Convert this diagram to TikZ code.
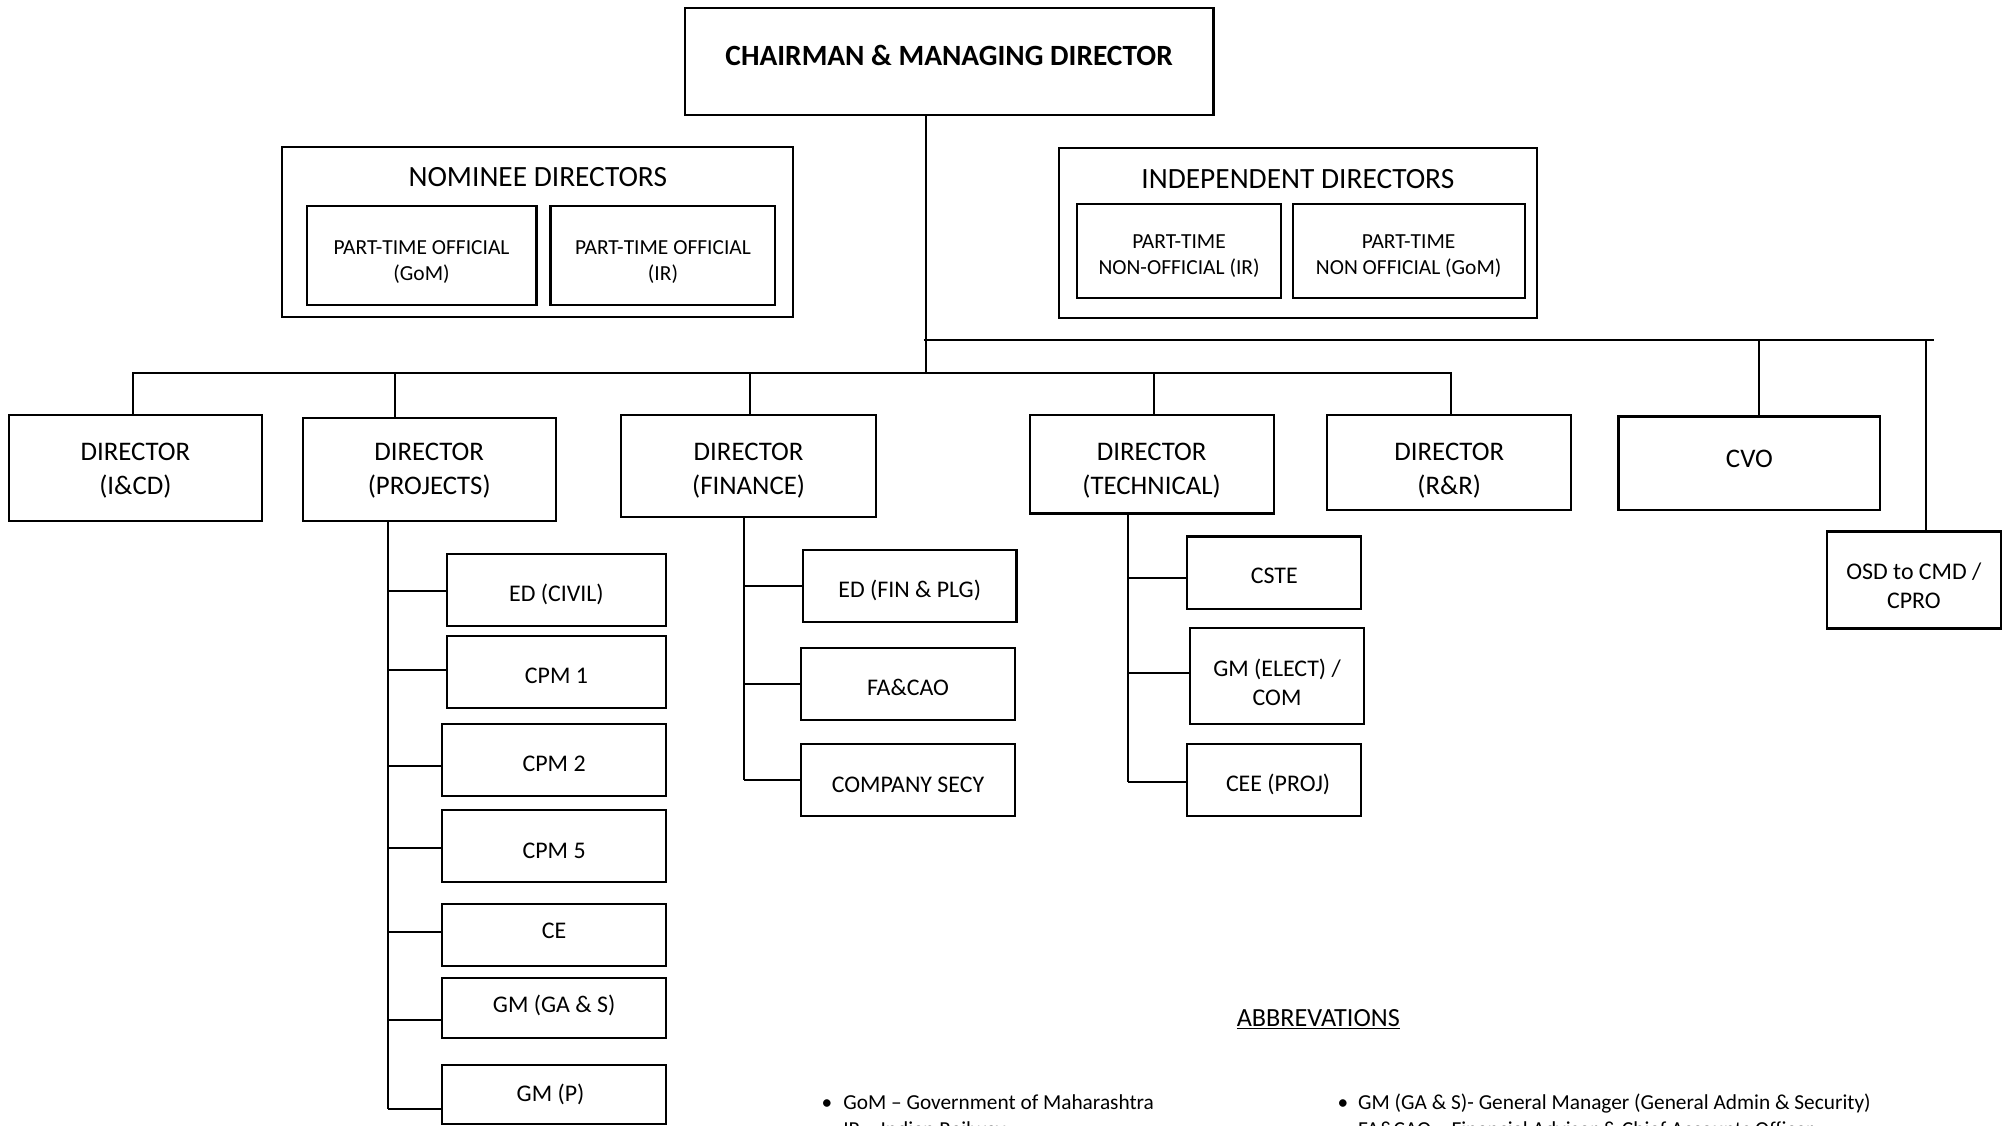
\documentclass[tikz,border=0pt]{standalone}
\usepackage{fontspec}
\setmainfont{Carlito}
\begin{document}
\begin{tikzpicture}[x=1pt,y=-1pt,
  box/.style={draw, line width=1.7pt, inner sep=0pt},
  txt/.style={inner sep=0pt, align=center, text=black},
  conn/.style={line width=1.6pt},
  fdir/.style={txt, font=\fontsize{21}{26}\selectfont},
  fsub/.style={txt, font=\fontsize{18.7}{23}\selectfont},
  fpt/.style={txt, font=\fontsize{16.8}{20.5}\selectfont},
  ftitle/.style={txt, font=\fontsize{23}{28}\selectfont},
  fbul/.style={font=\fontsize{16.7}{20}\selectfont, inner sep=0pt, anchor=base west},
  fabb/.style={font=\fontsize{20.5}{24}\selectfont, inner sep=0pt, anchor=base}]
\clip (0,0) rectangle (1568,880.7);
\fill[white] (0,0) rectangle (1568,880.7);

% top
\node[box, minimum width=414pt, minimum height=84pt] (cmd) at (743,48) {};
\node[txt, font=\bfseries\fontsize{23}{27}\selectfont] (cmdT) at (743,43.5) {CHAIRMAN \& MANAGING DIRECTOR};

% nominee directors
\node[box, minimum width=400pt, minimum height=133pt] (nomo) at (421,181.5) {};
\node[ftitle] (nomt) at (421,139) {NOMINEE DIRECTORS};
\node[box, minimum width=180pt, minimum height=78pt] (nom1) at (330,200) {};
\node[fpt] (nom1T) at (330,205) {PART-TIME OFFICIAL\\(GoM)};
\node[box, minimum width=176pt, minimum height=78pt] (nom2) at (519,200) {};
\node[fpt] (nom2T) at (519,205) {PART-TIME OFFICIAL\\(IR)};

% independent directors
\node[box, minimum width=374pt, minimum height=133pt] (indo) at (1016,182.5) {};
\node[ftitle] (indt) at (1016,140) {INDEPENDENT DIRECTORS};
\node[box, minimum width=160pt, minimum height=74pt] (ind1) at (923,196.4) {};
\node[fpt] (ind1T) at (923,200.4) {PART-TIME\\NON-OFFICIAL (IR)};
\node[box, minimum width=181.5pt, minimum height=74pt] (ind2) at (1102.75,196.4) {};
\node[fpt] (ind2T) at (1102.75,200.4) {PART-TIME\\NON OFFICIAL (GoM)};

% directors
\node[box, minimum width=198pt, minimum height=83pt] (icd) at (106,366.5) {};
\node[fdir] (icdT) at (106,368.5) {DIRECTOR\\(I\&CD)};
\node[box, minimum width=198pt, minimum height=81pt] (proj) at (336,367.5) {};
\node[fdir] (projT) at (336,368.5) {DIRECTOR\\(PROJECTS)};
\node[box, minimum width=200pt, minimum height=80pt] (fin) at (586,365) {};
\node[fdir] (finT) at (586,368.5) {DIRECTOR\\(FINANCE)};
\node[box, minimum width=191pt, minimum height=77pt] (tech) at (901.5,363.5) {};
\node[fdir] (techT) at (901.5,368.5) {DIRECTOR\\(TECHNICAL)};
\node[box, minimum width=191pt, minimum height=74pt] (rr) at (1134.5,362) {};
\node[fdir] (rrT) at (1134.5,368.5) {DIRECTOR\\(R\&R)};
\node[box, minimum width=205pt, minimum height=73pt] (cvo) at (1369.5,362.5) {};
\node[fdir] (cvoT) at (1369.5,359.5) {CVO};
\node[box, minimum width=136.5pt, minimum height=76pt] (osd) at (1498.25,454) {};
\node[fsub] (osdT) at (1498.25,458.5) {OSD to CMD /\\CPRO};

% projects children
\node[box, minimum width=171.6pt, minimum height=56.8pt] (edc) at (435.6,461.9) {};
\node[fsub] (edcT) at (435.6,465) {ED (CIVIL)};
\node[box, minimum width=171.6pt, minimum height=56.3pt] (cpm1) at (435.6,526.15) {};
\node[fsub] (cpm1T) at (435.6,529) {CPM 1};
\node[box, minimum width=175.2pt, minimum height=56.5pt] (cpm2) at (433.8,595.05) {};
\node[fsub] (cpm2T) at (433.8,598) {CPM 2};
\node[box, minimum width=175.2pt, minimum height=56.4pt] (cpm5) at (433.8,662.1) {};
\node[fsub] (cpm5T) at (433.8,666) {CPM 5};
\node[box, minimum width=175.2pt, minimum height=49.1pt] (ce) at (433.8,731.95) {};
\node[fsub] (ceT) at (433.8,729) {CE};
\node[box, minimum width=175.2pt, minimum height=47.1pt] (gmgas) at (433.8,789.05) {};
\node[fsub] (gmgasT) at (433.8,787) {GM (GA \& S)};
\node[box, minimum width=175.2pt, minimum height=46.1pt] (gmp) at (433.8,856.95) {};
\node[fsub] (gmpT) at (431,857) {GM (P)};

% finance children
\node[box, minimum width=167.1pt, minimum height=56.8pt] (edf) at (712.15,458.8) {};
\node[fsub] (edfT) at (712.15,461.8) {ED (FIN \& PLG)};
\node[box, minimum width=167pt, minimum height=55.9pt] (facao) at (710.8,535.45) {};
\node[fsub] (facaoT) at (710.8,538.5) {FA\&CAO};
\node[box, minimum width=167pt, minimum height=56.1pt] (csecy) at (710.8,610.45) {};
\node[fsub] (csecyT) at (710.8,614) {COMPANY SECY};

% technical children
\node[box, minimum width=136.1pt, minimum height=56.5pt] (cste) at (997.55,448.25) {};
\node[fsub] (csteT) at (997.55,450.5) {CSTE};
\node[box, minimum width=136.6pt, minimum height=74.9pt] (gme) at (999.7,529.35) {};
\node[fsub] (gmeT) at (999.7,534) {GM (ELECT) /\\COM};
\node[box, minimum width=136.1pt, minimum height=56.6pt] (cee) at (997.55,610.5) {};
\node[fsub] (ceeT) at (1000.5,614) {CEE (PROJ)};

% abbreviations
\node[fabb] (abbr) at (1032,803.6) {\underline{ABBREVATIONS}};
\node[fbul] (b1) at (643,868.4) {\makebox[17pt][l]{•}GoM – Government of Maharashtra};
\node[fbul] (b2) at (643,889.5) {\makebox[17pt][l]{•}IR – Indian Railway};
\node[fbul] (b3) at (1047,868.4) {\makebox[16pt][l]{•}GM (GA \& S)- General Manager (General Admin \& Security)};
\node[fbul] (b4) at (1047,889.5) {\makebox[16pt][l]{•}FA\&CAO – Financial Advisor \& Chief Accounts Officer};

% main connectors
\coordinate (j1) at (725,292);
\draw[conn] (cmd.south -| j1) -- (j1);
\coordinate (busL) at (104,292);
\coordinate (busR) at (1136,292);
\draw[conn] (icd.north -| busL) -- (busL) -- (busR) -- (busR |- rr.north);
\coordinate (pj) at (309,292);
\draw[conn] (pj) -- (pj |- proj.north);
\coordinate (fj) at (587,292);
\draw[conn] (fj) -- (fj |- fin.north);
\coordinate (tj) at (903,292);
\draw[conn] (tj) -- (tj |- tech.north);

\coordinate (ubL) at (723,266);
\coordinate (ubR) at (1514,266);
\draw[conn] (ubL) -- (ubR);
\coordinate (cvj) at (1377,266);
\draw[conn] (cvj) -- (cvj |- cvo.north);
\coordinate (osj) at (1508,266);
\draw[conn] (osj) -- (osj |- osd.north);

% projects subtree
\coordinate (pv) at (304,0);
\coordinate (pe1) at ([yshift=-1pt]edc.west);
\coordinate (pe2) at ([yshift=1.5pt]cpm1.west);
\coordinate (pe3) at ([yshift=-4.5pt]cpm2.west);
\coordinate (pe4) at ([yshift=-1.8pt]cpm5.west);
\coordinate (pe5) at ([yshift=2.6pt]ce.west);
\coordinate (pe6) at ([yshift=-9.5pt]gmgas.west);
\coordinate (pe7) at ([yshift=-11.2pt]gmp.west);
\draw[conn] (pv |- proj.south) -- (pv |- pe7);
\foreach \c in {pe1,pe2,pe3,pe4,pe5,pe6,pe7} \draw[conn] (\c) -- (\c -| pv);

% finance subtree
\coordinate (fv) at (582.5,0);
\draw[conn] (fv |- fin.south) -- (fv |- csecy.west);
\foreach \c in {edf,facao,csecy} \draw[conn] (\c.west) -- (\c.west -| fv);

% technical subtree
\coordinate (tv) at (883,0);
\coordinate (te1) at ([yshift=-4pt]cste.west);
\coordinate (te2) at ([yshift=2.2pt]gme.west);
\coordinate (te3) at ([yshift=-1.4pt]cee.west);
\draw[conn] (tv |- tech.south) -- (tv |- te3);
\foreach \c in {te1,te2,te3} \draw[conn] (\c) -- (\c -| tv);
\end{tikzpicture}
\end{document}
